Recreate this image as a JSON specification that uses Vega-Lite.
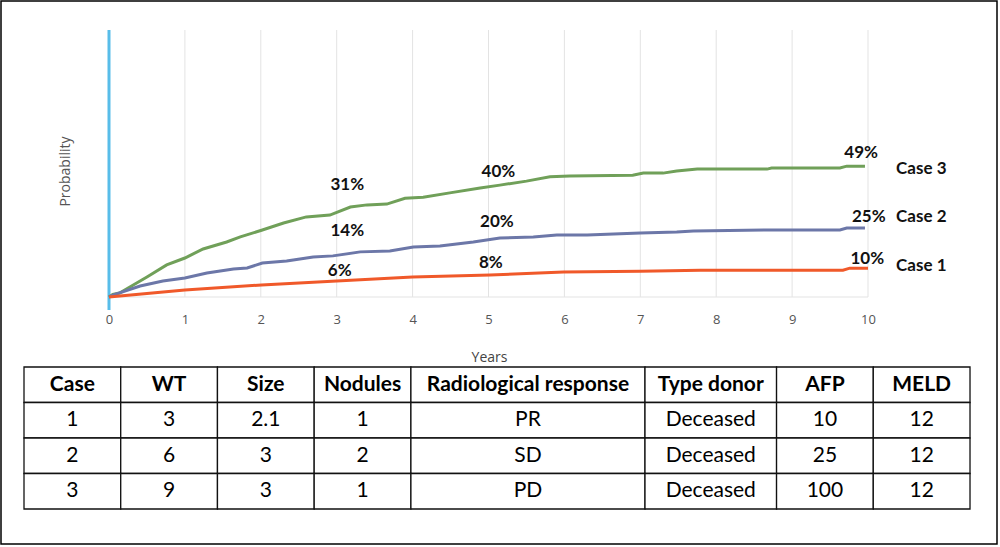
{
  "$schema": "https://vega.github.io/schema/vega-lite/v6.json",
  "width": 996,
  "height": 543,
  "autosize": {"type": "none"},
  "padding": {"left": 1, "top": 1, "right": 3, "bottom": 3},
  "background": "white",
  "config": {"view": {"stroke": "#000", "strokeWidth": 1.5}, "font": "Lato"},
  "datasets": {
    "years": [{"year": 0}, {"year": 1}, {"year": 2}, {"year": 3}, {"year": 4}, {"year": 5}, {"year": 6}, {"year": 7}, {"year": 8}, {"year": 9}, {"year": 10}],
    "curves": [
      {"case": "Case 3", "t": 0, "p": 0},
      {"case": "Case 3", "t": 0.05, "p": 0.01},
      {"case": "Case 3", "t": 0.14, "p": 0.015},
      {"case": "Case 3", "t": 0.32, "p": 0.045},
      {"case": "Case 3", "t": 0.5, "p": 0.075},
      {"case": "Case 3", "t": 0.76, "p": 0.12},
      {"case": "Case 3", "t": 1.0, "p": 0.146},
      {"case": "Case 3", "t": 1.24, "p": 0.18},
      {"case": "Case 3", "t": 1.55, "p": 0.206},
      {"case": "Case 3", "t": 1.73, "p": 0.225},
      {"case": "Case 3", "t": 2.01, "p": 0.25},
      {"case": "Case 3", "t": 2.3, "p": 0.277},
      {"case": "Case 3", "t": 2.6, "p": 0.3},
      {"case": "Case 3", "t": 2.91, "p": 0.307},
      {"case": "Case 3", "t": 3.18, "p": 0.337},
      {"case": "Case 3", "t": 3.4, "p": 0.345},
      {"case": "Case 3", "t": 3.66, "p": 0.348},
      {"case": "Case 3", "t": 3.9, "p": 0.37},
      {"case": "Case 3", "t": 4.14, "p": 0.374},
      {"case": "Case 3", "t": 4.49, "p": 0.39},
      {"case": "Case 3", "t": 4.89, "p": 0.408},
      {"case": "Case 3", "t": 5.15, "p": 0.419},
      {"case": "Case 3", "t": 5.5, "p": 0.434},
      {"case": "Case 3", "t": 5.81, "p": 0.45},
      {"case": "Case 3", "t": 6.07, "p": 0.453},
      {"case": "Case 3", "t": 6.9, "p": 0.456},
      {"case": "Case 3", "t": 7.04, "p": 0.464},
      {"case": "Case 3", "t": 7.3, "p": 0.464},
      {"case": "Case 3", "t": 7.48, "p": 0.472},
      {"case": "Case 3", "t": 7.75, "p": 0.479},
      {"case": "Case 3", "t": 8.67, "p": 0.479},
      {"case": "Case 3", "t": 8.73, "p": 0.483},
      {"case": "Case 3", "t": 9.63, "p": 0.483},
      {"case": "Case 3", "t": 9.72, "p": 0.49},
      {"case": "Case 3", "t": 9.96, "p": 0.49},
      {"case": "Case 2", "t": 0, "p": 0},
      {"case": "Case 2", "t": 0.05, "p": 0.007},
      {"case": "Case 2", "t": 0.41, "p": 0.041},
      {"case": "Case 2", "t": 0.71, "p": 0.06},
      {"case": "Case 2", "t": 1.0, "p": 0.071},
      {"case": "Case 2", "t": 1.29, "p": 0.09},
      {"case": "Case 2", "t": 1.64, "p": 0.105},
      {"case": "Case 2", "t": 1.82, "p": 0.109},
      {"case": "Case 2", "t": 2.02, "p": 0.127},
      {"case": "Case 2", "t": 2.34, "p": 0.135},
      {"case": "Case 2", "t": 2.69, "p": 0.15},
      {"case": "Case 2", "t": 2.95, "p": 0.154},
      {"case": "Case 2", "t": 3.31, "p": 0.169},
      {"case": "Case 2", "t": 3.7, "p": 0.172},
      {"case": "Case 2", "t": 4.01, "p": 0.187},
      {"case": "Case 2", "t": 4.36, "p": 0.191},
      {"case": "Case 2", "t": 4.8, "p": 0.206},
      {"case": "Case 2", "t": 5.15, "p": 0.221},
      {"case": "Case 2", "t": 5.59, "p": 0.225},
      {"case": "Case 2", "t": 5.9, "p": 0.232},
      {"case": "Case 2", "t": 6.3, "p": 0.232},
      {"case": "Case 2", "t": 7.0, "p": 0.24},
      {"case": "Case 2", "t": 7.48, "p": 0.243},
      {"case": "Case 2", "t": 7.7, "p": 0.247},
      {"case": "Case 2", "t": 8.67, "p": 0.251},
      {"case": "Case 2", "t": 9.63, "p": 0.251},
      {"case": "Case 2", "t": 9.72, "p": 0.258},
      {"case": "Case 2", "t": 9.96, "p": 0.258},
      {"case": "Case 1", "t": 0, "p": 0},
      {"case": "Case 1", "t": 1.0, "p": 0.026},
      {"case": "Case 1", "t": 2.01, "p": 0.045},
      {"case": "Case 1", "t": 3.0, "p": 0.06},
      {"case": "Case 1", "t": 4.0, "p": 0.075},
      {"case": "Case 1", "t": 5.02, "p": 0.082},
      {"case": "Case 1", "t": 5.99, "p": 0.094},
      {"case": "Case 1", "t": 7.0, "p": 0.096},
      {"case": "Case 1", "t": 7.79, "p": 0.1},
      {"case": "Case 1", "t": 9.67, "p": 0.1},
      {"case": "Case 1", "t": 9.76, "p": 0.108},
      {"case": "Case 1", "t": 10.0, "p": 0.108}
    ],
    "labels": [
      {"text": "31%", "t": 3.14, "p": 0.419, "kind": "pct"},
      {"text": "14%", "t": 3.14, "p": 0.247, "kind": "pct"},
      {"text": "6%", "t": 3.04, "p": 0.097, "kind": "pct"},
      {"text": "40%", "t": 5.13, "p": 0.468, "kind": "pct"},
      {"text": "20%", "t": 5.11, "p": 0.281, "kind": "pct"},
      {"text": "8%", "t": 5.03, "p": 0.127, "kind": "pct"},
      {"text": "49%", "t": 9.91, "p": 0.539, "kind": "pct"},
      {"text": "25%", "t": 10.01, "p": 0.3, "kind": "pct"},
      {"text": "10%", "t": 9.99, "p": 0.142, "kind": "pct"},
      {"text": "Case 3", "t": 10.37, "p": 0.479, "kind": "name"},
      {"text": "Case 2", "t": 10.37, "p": 0.3, "kind": "name"},
      {"text": "Case 1", "t": 10.37, "p": 0.116, "kind": "name"}
    ],
    "cols": [
      {"col": "Case", "x0": 0, "x1": 1},
      {"col": "WT", "x0": 1, "x1": 2},
      {"col": "Size", "x0": 2, "x1": 3},
      {"col": "Nodules", "x0": 3, "x1": 4},
      {"col": "Radiological response", "x0": 4, "x1": 6.42},
      {"col": "Type donor", "x0": 6.42, "x1": 7.78},
      {"col": "AFP", "x0": 7.78, "x1": 8.78},
      {"col": "MELD", "x0": 8.78, "x1": 9.78}
    ],
    "cases": [
      {"Case": 1, "WT": 3, "Size": 2.1, "Nodules": 1, "Radiological response": "PR", "Type donor": "Deceased", "AFP": 10, "MELD": 12},
      {"Case": 2, "WT": 6, "Size": 3, "Nodules": 2, "Radiological response": "SD", "Type donor": "Deceased", "AFP": 25, "MELD": 12},
      {"Case": 3, "WT": 9, "Size": 3, "Nodules": 1, "Radiological response": "PD", "Type donor": "Deceased", "AFP": 100, "MELD": 12}
    ]
  },
  "layer": [
    {
      "layer": [
        {
          "data": {"name": "years"},
          "mark": {"type": "rule", "color": "#e3e3e3", "strokeWidth": 1},
          "encoding": {
            "x": {
              "field": "year", "type": "quantitative",
              "scale": {"domain": [-1.4229, 11.6996], "nice": false, "zero": false},
              "axis": {
                "values": [0, 1, 2, 3, 4, 5, 6, 7, 8, 9, 10],
                "format": "d",
                "grid": false, "domain": false, "ticks": false, "tickSize": 0,
                "labelPadding": 22, "labelBaseline": "middle",
                "labelFont": "Open Sans", "labelFontSize": 13, "labelColor": "#555",
                "labelFlush": false, "labelOverlap": false,
                "offset": -247,
                "title": "Years", "titleFont": "Open Sans", "titleFontSize": 14,
                "titleFontWeight": "normal", "titleColor": "#444",
                "titleX": 488, "titleY": 60, "titleBaseline": "middle", "titleAlign": "center"
              }
            },
            "y": {
              "datum": 0, "type": "quantitative",
              "scale": {"domain": [-0.9251, 1.1086], "nice": false, "zero": false},
              "axis": {
                "labels": false, "ticks": false, "domain": false, "grid": false,
                "offset": -108,
                "title": "Probability", "titleFont": "Open Sans", "titleFontSize": 14,
                "titleFontWeight": "normal", "titleColor": "#555",
                "titleX": -44, "titleY": 170, "titleBaseline": "middle", "titleAlign": "center", "titleAngle": -90
              }
            },
            "y2": {"datum": 1}
          }
        },
        {
          "data": {"values": [{}]},
          "mark": {"type": "rule", "color": "#e3e3e3", "strokeWidth": 1},
          "encoding": {
            "x": {"datum": 0, "type": "quantitative"},
            "x2": {"datum": 10},
            "y": {"datum": 0, "type": "quantitative"}
          }
        },
        {
          "data": {"values": [{}]},
          "mark": {"type": "rule", "color": "#58bde9", "strokeWidth": 3},
          "encoding": {
            "x": {"datum": 0, "type": "quantitative"},
            "y": {"datum": -0.049, "type": "quantitative"},
            "y2": {"datum": 1}
          }
        },
        {
          "data": {"name": "curves"},
          "mark": {"type": "line", "strokeWidth": 3, "interpolate": "linear"},
          "encoding": {
            "x": {"field": "t", "type": "quantitative"},
            "y": {"field": "p", "type": "quantitative"},
            "color": {
              "field": "case", "type": "nominal",
              "scale": {"domain": ["Case 1", "Case 2", "Case 3"], "range": ["#f0592a", "#6c77a8", "#70a059"]},
              "legend": null
            }
          }
        },
        {
          "data": {"name": "labels"},
          "transform": [{"filter": "datum.kind === 'pct'"}],
          "mark": {"type": "text", "font": "Lato", "fontWeight": "bold", "fontSize": 17, "color": "#111", "align": "center", "baseline": "middle"},
          "encoding": {
            "x": {"field": "t", "type": "quantitative"},
            "y": {"field": "p", "type": "quantitative"},
            "text": {"field": "text", "type": "nominal"}
          }
        },
        {
          "data": {"name": "labels"},
          "transform": [{"filter": "datum.kind === 'name'"}],
          "mark": {"type": "text", "font": "Lato", "fontWeight": "bold", "fontSize": 17, "color": "#111", "align": "left", "baseline": "middle"},
          "encoding": {
            "x": {"field": "t", "type": "quantitative"},
            "y": {"field": "p", "type": "quantitative"},
            "text": {"field": "text", "type": "nominal"}
          }
        }
      ]
    },
    {
      "layer": [
        {
          "data": {"name": "cols"},
          "mark": {"type": "rect", "fill": "white", "stroke": "#111", "strokeWidth": 1.3},
          "encoding": {
            "x": {"field": "x0", "type": "quantitative", "scale": {"domain": [-0.2378, 10.059], "nice": false, "zero": false}, "axis": null},
            "x2": {"field": "x1"},
            "y": {"datum": 0, "type": "quantitative", "scale": {"domain": [-10.31, 4.986], "nice": false, "zero": false, "reverse": true}, "axis": null},
            "y2": {"datum": 1}
          }
        },
        {
          "data": {"name": "cols"},
          "transform": [{"calculate": "(datum.x0 + datum.x1) / 2", "as": "mid"}],
          "mark": {"type": "text", "font": "Lato", "fontWeight": "bold", "fontSize": 21, "color": "#000", "align": "center", "baseline": "middle"},
          "encoding": {
            "x": {"field": "mid", "type": "quantitative", "axis": null},
            "y": {"datum": 0.5, "type": "quantitative", "axis": null},
            "text": {"field": "col", "type": "nominal"}
          }
        },
        {
          "data": {"name": "cases"},
          "transform": [
            {"calculate": "datum.Case", "as": "row"},
            {"fold": ["Case", "WT", "Size", "Nodules", "Radiological response", "Type donor", "AFP", "MELD"], "as": ["col", "val"]},
            {"lookup": "col", "from": {"data": {"name": "cols"}, "key": "col", "fields": ["x0", "x1"]}},
            {"calculate": "(datum.x0 + datum.x1) / 2", "as": "mid"},
            {"calculate": "datum.row + 1", "as": "row2"},
            {"calculate": "datum.row + 0.5", "as": "rowmid"}
          ],
          "layer": [
            {
              "mark": {"type": "rect", "fill": "white", "stroke": "#111", "strokeWidth": 1.3},
              "encoding": {
                "x": {"field": "x0", "type": "quantitative", "axis": null},
                "x2": {"field": "x1"},
                "y": {"field": "row", "type": "quantitative", "axis": null},
                "y2": {"field": "row2"}
              }
            },
            {
              "mark": {"type": "text", "font": "Lato", "fontSize": 21, "color": "#000", "align": "center", "baseline": "middle"},
              "encoding": {
                "x": {"field": "mid", "type": "quantitative", "axis": null},
                "y": {"field": "rowmid", "type": "quantitative", "axis": null},
                "text": {"field": "val", "type": "nominal"}
              }
            }
          ]
        }
      ]
    }
  ],
  "resolve": {
    "scale": {"x": "independent", "y": "independent"},
    "axis": {"x": "independent", "y": "independent"}
  }
}
